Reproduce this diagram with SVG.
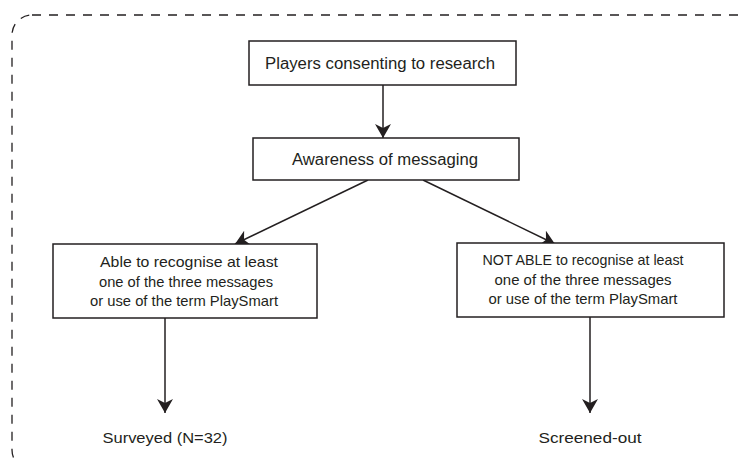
<svg xmlns="http://www.w3.org/2000/svg" width="744" height="461" viewBox="0 0 744 461">
  <defs>
    <marker id="arrow" viewBox="0 0 14 16" refX="14" refY="8" markerWidth="14" markerHeight="16" markerUnits="userSpaceOnUse" orient="auto">
      <path d="M0,0 L14,8 L0,16 L4,8 Z" fill="#231f20"/>
    </marker>
  </defs>
  <style>
    .frame { fill: none; stroke: #231f20; stroke-width: 1.3; stroke-dasharray: 9 8; }
    .box { fill: #ffffff; stroke: #231f20; stroke-width: 1.5; }
    .edge { fill: none; stroke: #231f20; stroke-width: 1.5; marker-end: url(#arrow); }
    text { font-family: "Liberation Sans", Arial, sans-serif; fill: #231f20; text-anchor: middle; }
    .t16 { font-size: 16px; }
    .t15 { font-size: 15px; }
  </style>

  <!-- dashed enclosing frame -->
  <rect class="frame" x="12" y="15" width="750" height="455" rx="20" ry="20"/>

  <!-- connectors -->
  <g id="connectors">
    <line class="edge" x1="383" y1="85" x2="383" y2="138"/>
    <line class="edge" x1="368" y1="180" x2="235" y2="244"/>
    <line class="edge" x1="423" y1="180" x2="555" y2="244"/>
    <line class="edge" x1="165" y1="318" x2="165" y2="413"/>
    <line class="edge" x1="590" y1="317" x2="590" y2="413"/>
  </g>

  <g id="consenting">
    <rect class="box" x="249" y="41" width="267" height="44"/>
    <text class="t16" x="380" y="69" textLength="230" lengthAdjust="spacingAndGlyphs">Players consenting to research</text>
  </g>

  <g id="awareness">
    <rect class="box" x="253" y="138" width="266" height="42"/>
    <text class="t16" x="385" y="165" textLength="186" lengthAdjust="spacingAndGlyphs">Awareness of messaging</text>
  </g>

  <g id="able">
    <rect class="box" x="53" y="244" width="264" height="74"/>
    <text class="t15" x="189" y="267" textLength="178" lengthAdjust="spacingAndGlyphs">Able to recognise at least</text>
    <text class="t15" x="186" y="287" textLength="174" lengthAdjust="spacingAndGlyphs">one of the three messages</text>
    <text class="t15" x="184" y="306" textLength="188" lengthAdjust="spacingAndGlyphs">or use of the term PlaySmart</text>
  </g>

  <g id="not-able">
    <rect class="box" x="457" y="243" width="267" height="74"/>
    <text class="t15" x="583" y="265" textLength="201" lengthAdjust="spacingAndGlyphs">NOT ABLE to recognise at least</text>
    <text class="t15" x="583" y="285" textLength="177" lengthAdjust="spacingAndGlyphs">one of the three messages</text>
    <text class="t15" x="583" y="304" textLength="189" lengthAdjust="spacingAndGlyphs">or use of the term PlaySmart</text>
  </g>

  <g id="surveyed">
    <text class="t15" x="165" y="443" textLength="125" lengthAdjust="spacingAndGlyphs">Surveyed (N=32)</text>
  </g>

  <g id="screened-out">
    <text class="t15" x="590" y="443" textLength="103" lengthAdjust="spacingAndGlyphs">Screened-out</text>
  </g>
</svg>
